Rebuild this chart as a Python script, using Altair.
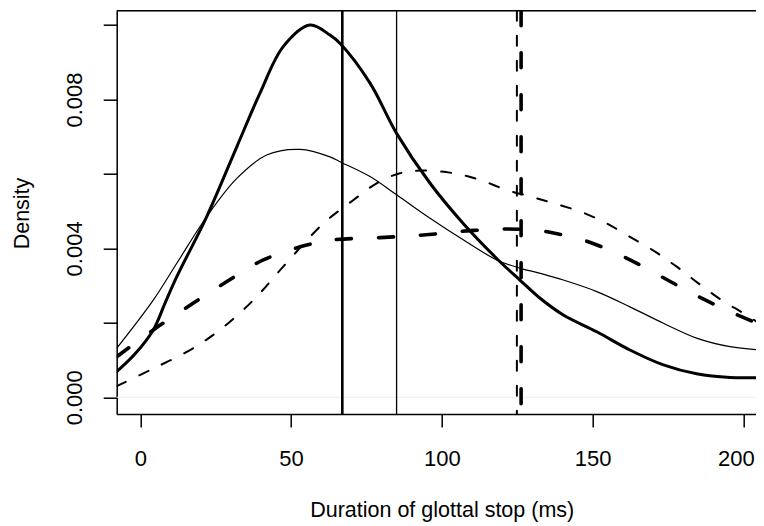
import altair as alt
import pandas as pd

# Thick solid density
xs_a = [-7.8, -1.8, 4.3, 8.2, 12.1, 22.0, 32.0, 39.7, 47.4, 56.3, 62.9, 66.2, 76.2, 85.0, 96.1, 107.1, 118.2, 125.9, 132.6, 140.3, 151.4, 162.4, 173.5, 184.5, 195.6, 206.6]
ys_a = [0.00069, 0.00116, 0.00181, 0.00253, 0.00324, 0.00485, 0.00673, 0.00817, 0.00942, 0.01000, 0.00973, 0.00951, 0.00844, 0.00709, 0.00575, 0.00467, 0.00373, 0.00315, 0.00266, 0.00221, 0.00176, 0.00127, 0.00087, 0.00063, 0.00053, 0.00053]

# Thin solid density
xs_b = [-7.8, 4.3, 12.1, 22.0, 32.0, 41.9, 53.0, 62.9, 66.2, 76.2, 85.0, 96.1, 107.1, 118.2, 125.9, 132.6, 140.3, 151.4, 162.4, 173.5, 184.5, 195.6, 206.6]
ys_b = [0.00132, 0.00261, 0.00360, 0.00485, 0.00588, 0.00651, 0.00666, 0.00646, 0.00633, 0.00593, 0.00544, 0.00481, 0.00423, 0.00369, 0.00347, 0.00333, 0.00315, 0.00284, 0.00243, 0.00199, 0.00159, 0.00136, 0.00127]

# Thick dashed density
xs_c = [-7.8, 4.3, 17.6, 28.7, 40.8, 55.2, 64.0, 79.5, 93.9, 108.3, 121.5, 131.5, 134.8, 147.5, 160.2, 172.4, 184.5, 196.7, 206.6]
ys_c = [0.00109, 0.00181, 0.00253, 0.00311, 0.00369, 0.00409, 0.00423, 0.00429, 0.00436, 0.00447, 0.00452, 0.00449, 0.00445, 0.00421, 0.00378, 0.00326, 0.00273, 0.00226, 0.00192]

# Thin dashed density
xs_d = [-7.8, 3.2, 16.5, 26.4, 37.5, 47.4, 60.7, 70.7, 78.4, 86.1, 93.9, 103.8, 112.7, 121.5, 130.4, 138.1, 146.9, 154.7, 162.4, 170.2, 177.9, 185.1, 192.8, 200.0, 206.6]
ys_d = [0.00030, 0.00073, 0.00127, 0.00181, 0.00261, 0.00351, 0.00467, 0.00530, 0.00575, 0.00602, 0.00609, 0.00602, 0.00584, 0.00557, 0.00537, 0.00519, 0.00496, 0.00467, 0.00431, 0.00394, 0.00351, 0.00306, 0.00261, 0.00226, 0.00192]

# Vertical reference lines (means): thick solid, thin solid, thin dashed, thick dashed
vline_thick_solid = [67.0]
vline_thin_solid = [85.0]
vline_thin_dashed = [124.9]
vline_thick_dashed = [126.3]

x_ticks = [0, 50, 100, 150, 200]
y_ticks = [0.0, 0.002, 0.004, 0.006, 0.008, 0.010]

W = 639.3
H = 403.3
X_DOMAIN = [-7.83, -7.83 + W / 3.015]
Y_DOMAIN = [-0.000449, 0.010386]
FONT = "Liberation Sans"
FS = 22
TFS = 21.5

x_axis = alt.Axis(
    values=x_ticks, format="d", grid=False,
    domainColor="black", domainWidth=1.5,
    tickColor="black", tickWidth=1.5, tickSize=13,
    labelFontSize=FS, labelFont=FONT, labelColor="black",
    labelBaseline="alphabetic", labelPadding=38,
    labelFlush=20, labelFlushOffset=11,
    title="Duration of glottal stop (ms)", titleFontSize=TFS, titleFont=FONT,
    titleFontWeight="normal", titleColor="black",
    titleX=325, titleY=102.7, titleBaseline="alphabetic", titleAlign="center",
)
y_axis = alt.Axis(
    values=y_ticks, grid=False,
    labelExpr="(abs(datum.value) < 1e-7 || abs(datum.value - 0.004) < 1e-7 || abs(datum.value - 0.008) < 1e-7) ? format(datum.value, '.3f') : ''",
    domainColor="black", domainWidth=1.5,
    tickColor="black", tickWidth=1.5, tickSize=13.5,
    labelFontSize=FS, labelFont=FONT, labelColor="black",
    labelAngle=270, labelAlign="center", labelBaseline="alphabetic",
    labelPadding=21.5, labelOverlap=False, labelFlush=False,
    title="Density", titleFontSize=TFS, titleFont=FONT,
    titleFontWeight="normal", titleColor="black",
    titleAngle=270, titleX=-88.4, titleY=202.3,
    titleBaseline="alphabetic", titleAlign="center",
)

def X():
    return alt.X("x:Q", scale=alt.Scale(domain=X_DOMAIN, nice=False, zero=False), axis=x_axis)

def Y():
    return alt.Y("y:Q", scale=alt.Scale(domain=Y_DOMAIN, nice=False, zero=False), axis=y_axis)

def curve(xs, ys, width, dash=None):
    df = pd.DataFrame({"x": xs, "y": ys})
    kw = dict(color="black", strokeWidth=width, interpolate="catmull-rom", clip=True, strokeCap="round")
    if dash is not None:
        kw["strokeDash"] = dash
    return alt.Chart(df).mark_line(**kw).encode(x=X(), y=Y())

def vline(xs, width, dash=None):
    df = pd.DataFrame({"x": xs})
    kw = dict(color="black", strokeWidth=width, clip=True)
    if dash is not None:
        kw["strokeDash"] = dash
        kw["strokeCap"] = "round"
    return alt.Chart(df).mark_rule(**kw).encode(x=X())

zero_line = alt.Chart(pd.DataFrame({"y": [0.0]})).mark_rule(color="#eeeeee", strokeWidth=1).encode(y=Y())
top_border = alt.Chart(pd.DataFrame({"a": [0]})).mark_rule(color="black", strokeWidth=1.5).encode(
    x=alt.value(0), x2=alt.value(W), y=alt.value(0)
)

chart = alt.layer(
    zero_line,
    curve(xs_d, ys_d, 2.0, [10, 15]),
    curve(xs_c, ys_c, 3.6, [15, 27]),
    curve(xs_b, ys_b, 1.2),
    curve(xs_a, ys_a, 3.0),
    vline(vline_thick_solid, 2.6),
    vline(vline_thin_solid, 1.3),
    vline(vline_thin_dashed, 2.0, [10, 15]),
    vline(vline_thick_dashed, 3.6, [15, 27]),
    top_border,
).properties(
    width=W, height=H,
    autosize=alt.AutoSizeParams(type="none"),
    padding={"left": 108.7, "top": 2.7, "right": 0, "bottom": 112},
).configure_view(stroke=None).configure(font=FONT, background="white")

chart.save("out.html", embed_options={"renderer": "svg", "actions": False})
